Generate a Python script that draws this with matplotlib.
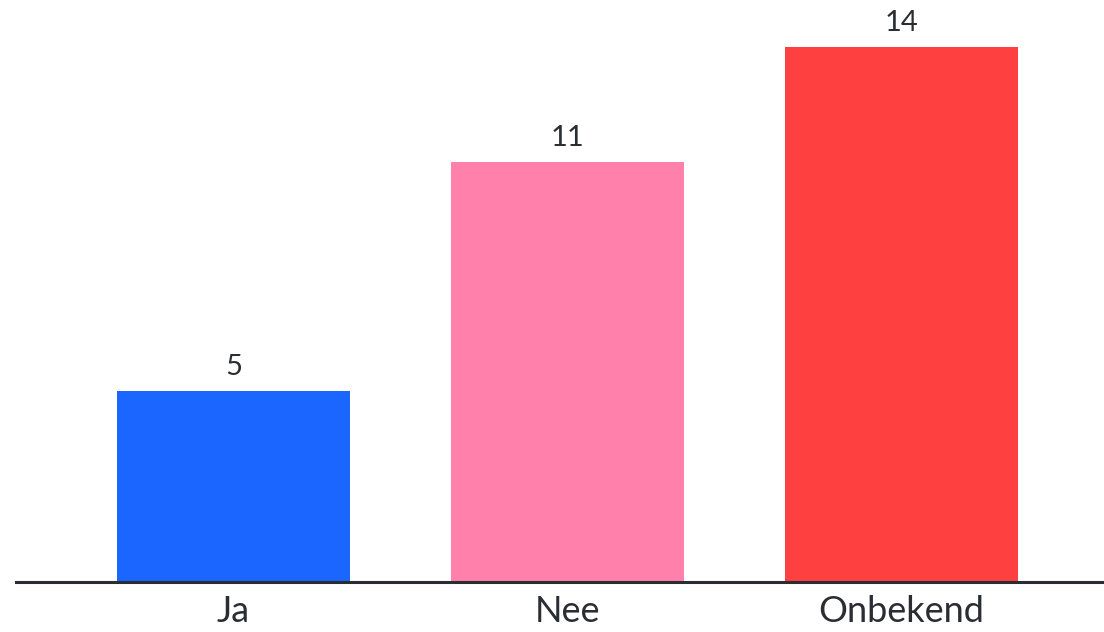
import matplotlib.pyplot as plt

plt.rcParams["font.family"] = ["Lato", "DejaVu Sans"]

categories = ["Ja", "Nee", "Onbekend"]
counts = [5, 11, 14]
colors = ["#1a66ff", "#ff80aa", "#ff4040"]

fig = plt.figure(figsize=(11.04, 6.32), dpi=100)
ax = fig.add_axes([16 / 1104, 1 - 582 / 632, 1 - 16 / 1104, 582 / 632])

x = range(len(categories))
bars = ax.bar(x, counts, width=0.7, color=colors, zorder=2)

for b, v in zip(bars, counts):
    ax.annotate(str(v), (b.get_x() + b.get_width() / 2, v),
                xytext=(0, 8), textcoords="offset points",
                ha="center", va="bottom", fontsize=21, color="#2a2e33")

ax.set_xlim(-0.651, 2.606)
ax.set_ylim(0, 15.24)
ax.set_xticks(list(x))
ax.set_xticklabels(categories, fontsize=26, color="#2a2e33")
ax.tick_params(axis="x", length=0, pad=9)
ax.set_yticks([])
for side in ["left", "right", "top"]:
    ax.spines[side].set_visible(False)
ax.spines["bottom"].set_linewidth(2.2)
ax.spines["bottom"].set_color("#2a2e33")
ax.spines["bottom"].set_zorder(3)

fig.savefig("out.png", dpi=100)
